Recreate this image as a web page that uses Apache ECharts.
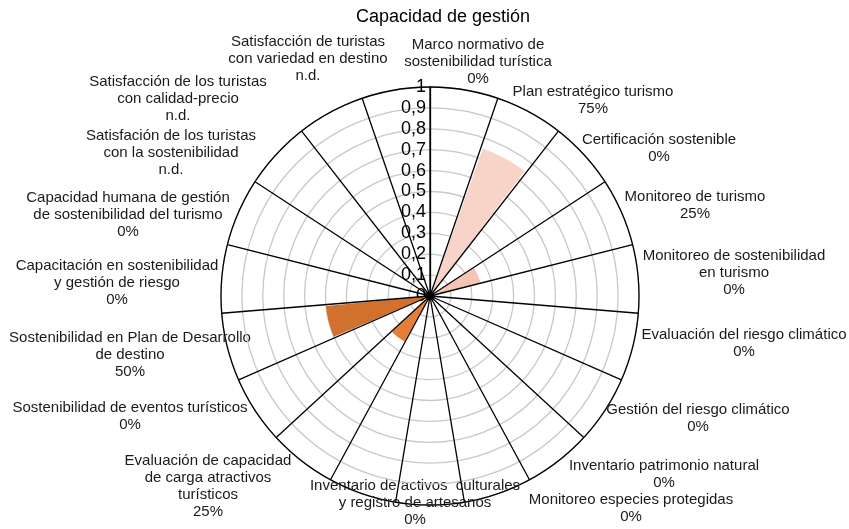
<!DOCTYPE html>
<html>
<head>
<meta charset="utf-8">
<script src="https://cdn.jsdelivr.net/npm/echarts@6/dist/echarts.min.js"></script>
<style>
html, body { margin: 0; padding: 0; background: #ffffff; }
#chart { width: 849px; height: 529px; }
</style>
</head>
<body>
<div id="chart"></div>
<script>
// categorías (una vacía entre "Inventario de activos" y "Evaluación de capacidad")
const categories = [
	"Marco normativo de\nsostenibilidad turística",
	"Plan estratégico turismo",
	"Certificación sostenible",
	"Monitoreo de turismo",
	"Monitoreo de sostenibilidad\nen turismo",
	"Evaluación del riesgo climático",
	"Gestión del riesgo climático",
	"Inventario patrimonio natural",
	"Monitoreo especies protegidas",
	"Inventario de activos  culturales\ny registro de artesanos",
	"",
	"Evaluación de capacidad\nde carga atractivos\nturísticos",
	"Sostenibilidad de eventos turísticos",
	"Sostenibilidad en Plan de Desarrollo\nde destino",
	"Capacitación en sostenibilidad\ny gestión de riesgo",
	"Capacidad humana de gestión\nde sostenibilidad del turismo",
	"Satisfación de los turistas\ncon la sostenibilidad",
	"Satisfacción de los turistas\ncon calidad-precio",
	"Satisfacción de turistas\ncon variedad en destino",
]
// null = n.d.
const values = [0, 0.75, 0, 0.25, 0, 0, 0, 0, 0, 0, null, 0.25, 0, 0.5, 0, 0, null, null, null]
const radiusTicks = [0, 0.1, 0.2, 0.3, 0.4, 0.5, 0.6, 0.7, 0.8, 0.9, 1]

const barColors = [
	"#F8D4C8", "#F8D4C8", "#F4C5B2", "#F4C5B2", "#F4C5B2", "#F4C5B2", "#F4C5B2",
	"#F4C5B2", "#F4C5B2", "#E57E37", "#E57E37", "#E57E37", "#D2702D", "#D2702D",
	"#D2702D", "#D2702D", "#D2702D", "#D2702D", "#D2702D",
]
// centro de cada etiqueta (px)
const labelPos = [
	[478, 62], [593, 100], [659, 148], [695, 205], [734, 273], [744, 343],
	[698, 418], [664, 474], [631, 508], [415, 503], null, [208, 486],
	[130, 416], [130, 355], [117, 283], [128, 215], [171, 153], [178, 99], [308, 59],
]

const font = '"Liberation Sans", Arial, sans-serif'

let myChart = echarts.init(document.getElementById("chart"))

let labels = []
categories.forEach((name, i) => {
	if (!labelPos[i]) return
	let v = values[i]
	labels.push({
		type: "text",
		x: labelPos[i][0],
		y: labelPos[i][1],
		style: {
			text: name + "\n" + (v == null ? "n.d." : Math.round(v * 100) + "%"),
			align: "center",
			verticalAlign: "middle",
			fontFamily: font,
			fontSize: 15,
			lineHeight: 17,
			fill: "#1a1a1a",
		},
	})
})

let option = {
	animation: false,
	backgroundColor: "#ffffff",
	title: {
		text: "Capacidad de gestión",
		left: 438,
		top: 3,
		textAlign: "center",
		textStyle: { fontFamily: font, fontSize: 18, fontWeight: "normal", color: "#000" },
	},
	polar: { center: [430, 296], radius: 209 },
	angleAxis: {
		type: "category",
		data: categories,
		startAngle: 90,
		clockwise: true,
		boundaryGap: true,
		z: 3,
		axisLine: { lineStyle: { color: "#000", width: 1.3 } },
		axisTick: { show: false },
		axisLabel: { show: false },
		splitLine: { show: true, lineStyle: { color: "#000", width: 1.3 } },
	},
	radiusAxis: {
		min: radiusTicks[0],
		max: radiusTicks[radiusTicks.length - 1],
		interval: 0.1,
		axisLine: { lineStyle: { color: "#000", width: 1.3 } },
		axisTick: { show: false },
		axisLabel: {
			fontFamily: font,
			fontSize: 18,
			color: "#000",
			margin: 4,
			formatter: (v) => String(+v.toFixed(1)).replace(".", ","),
		},
		splitLine: { show: true, lineStyle: { color: "#c8c8c8", width: 1.3 } },
	},
	series: [
		{
			type: "bar",
			coordinateSystem: "polar",
			barCategoryGap: "8%",
			data: values.map((v, i) => ({
				value: v == null ? 0 : v,
				itemStyle: { color: barColors[i] },
			})),
		},
	],
	graphic: labels,
}
myChart.setOption(option)
</script>
</body>
</html>
